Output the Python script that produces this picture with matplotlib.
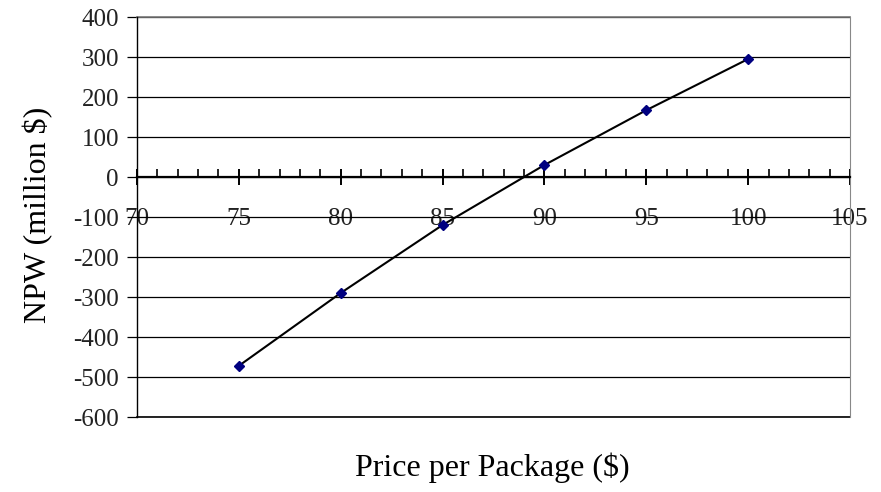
"""
NPW versus price per package
"""
import matplotlib
matplotlib.use("Agg")
import matplotlib.pyplot as plt
from matplotlib.ticker import MultipleLocator

#Data
price = [75, 80, 85, 90, 95, 100]
npw = [-472, -290, -120, 30, 167, 295]

plt.rcParams['font.family'] = ['Liberation Serif', 'DejaVu Serif']
plt.rcParams['axes.unicode_minus'] = False

fig = plt.figure(figsize=(8.81, 4.92), dpi=100)
ax = fig.add_axes([137/881, 1 - 417/492, (850 - 137)/881, 400/492])

#Series: navy diamonds with black line
ax.plot(price, npw, color='black', lw=1.5, zorder=3)
ax.plot(price, npw, ls='none', marker='D', ms=5, color='#000080', zorder=4)

ax.set_xlim(70, 105)
ax.set_ylim(-600, 400)
ax.yaxis.set_major_locator(MultipleLocator(100))
ax.xaxis.set_major_locator(MultipleLocator(5))
ax.xaxis.set_minor_locator(MultipleLocator(1))

#Horizontal gridlines
ax.grid(axis='y', color='black', lw=0.9)
ax.axhline(-600, color='black', lw=1.2, clip_on=False, zorder=1)
ax.axhline(400, color='#777777', lw=1.2, clip_on=False, zorder=1)
ax.set_axisbelow(True)

#x axis crosses at zero
ax.spines['bottom'].set_position(('data', 0))
ax.spines['bottom'].set_linewidth(1.6)
ax.spines['bottom'].set_zorder(5)
ax.spines['top'].set_visible(False)
ax.spines['right'].set_color('#888888')
ax.spines['left'].set_linewidth(1.0)

ax.tick_params(axis='x', which='major', direction='inout', length=12,
               width=1.4, labelsize=18, pad=16)
ax.tick_params(axis='x', which='minor', direction='in', length=6, width=1.2)
ax.tick_params(axis='y', direction='out', length=7, width=0.9,
               labelsize=18, pad=6, labelcolor='#222222')
ax.tick_params(axis='x', labelcolor='#222222')

fig.text(38/881, 1 - 215/492, 'NPW (million $)', rotation=90,
         ha='center', va='center', fontsize=23)
fig.text(492/881, 1 - 468/492, 'Price per Package ($)',
         ha='center', va='center', fontsize=23)

fig.savefig('out.png', dpi=100)
